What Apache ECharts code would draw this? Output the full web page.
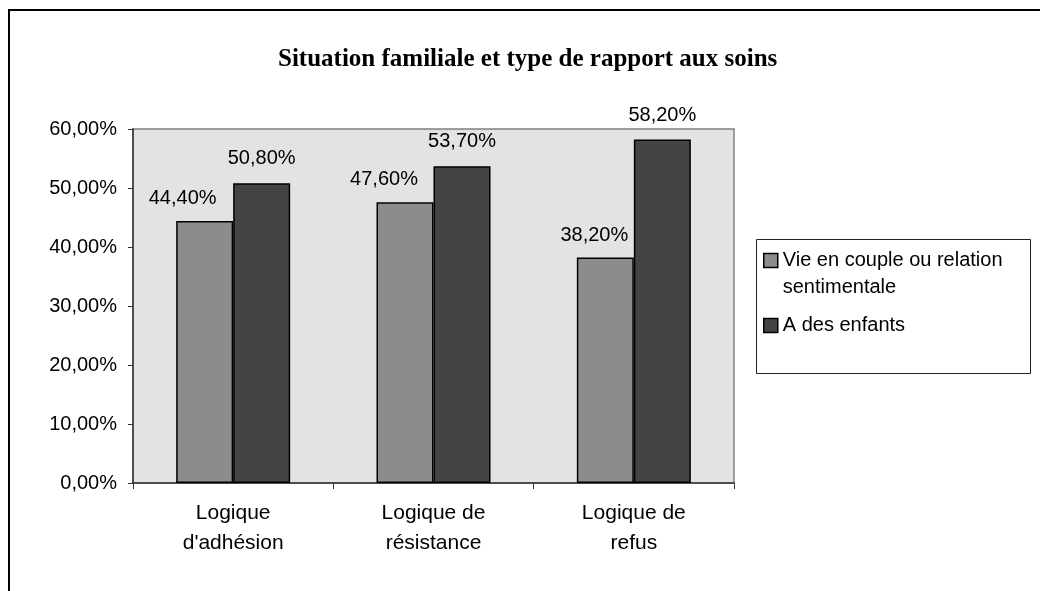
<!DOCTYPE html>
<html>
<head>
<meta charset="utf-8">
<title>Situation familiale et type de rapport aux soins</title>
<script src="https://cdn.jsdelivr.net/npm/echarts@6/dist/echarts.min.js"></script>
<style>
  html, body { margin: 0; padding: 0; background: #fff; }
  #main { width: 1040px; height: 591px; }
</style>
</head>
<body>
<div id="main"></div>
<script>
// données
const categories = ["Logique\nd'adhésion", 'Logique de\nrésistance', 'Logique de\nrefus']
const couple = [44.4, 47.6, 38.2]     // Vie en couple ou relation sentimentale
const enfants = [50.8, 53.7, 58.2]    // A des enfants
const seriesNames = ['Vie en couple ou relation\nsentimentale', 'A des enfants']
// décalage horizontal des étiquettes de la 1re série (Excel les pousse à gauche)
const coupleLabelShift = [-22, -21, -11]

const fontSans = 'Liberation Sans, Arial, sans-serif'

function pct(v) {
  return v.toFixed(2).replace('.', ',') + '%'
}

let myChart = echarts.init(document.getElementById('main'))

let option = {
  backgroundColor: '#ffffff',
  animation: false,
  title: {
    text: 'Situation familiale et type de rapport aux soins',
    left: 273,
    top: 42,
    textStyle: {
      fontFamily: 'Liberation Serif, Times New Roman, serif',
      fontWeight: 'bold',
      fontSize: 25,
      color: '#000'
    }
  },
  legend: {
    orient: 'vertical',
    left: 763,
    top: 220,
    padding: 0,
    itemGap: 11,
    itemWidth: 14,
    itemHeight: 14,
    icon: 'rect',
    itemStyle: { borderColor: '#000', borderWidth: 1.5 },
    textStyle: {
      fontFamily: fontSans,
      fontSize: 20,
      lineHeight: 27,
      color: '#000'
    },
    // ligne vide en tête : l'icône s'aligne sur la première ligne du texte
    formatter: name => (name === seriesNames[0] ? '\n' + name : name),
    data: seriesNames
  },
  grid: {
    left: 133,
    right: 306,
    top: 129,
    bottom: 108,
    show: true,
    backgroundColor: '#e3e3e3',
    borderColor: '#808080',
    borderWidth: 1.5
  },
  xAxis: {
    type: 'category',
    data: categories,
    axisLine: { lineStyle: { color: '#333', width: 1.5 } },
    axisTick: { show: true, length: 6, lineStyle: { color: '#333' } },
    axisLabel: {
      fontFamily: fontSans,
      fontSize: 21,
      lineHeight: 30,
      color: '#000',
      margin: 15
    }
  },
  yAxis: {
    type: 'value',
    min: 0,
    max: 60,
    interval: 10,
    axisLine: { show: true, lineStyle: { color: '#333', width: 1.5 } },
    axisTick: { show: true, length: 5, lineStyle: { color: '#333' } },
    splitLine: { show: false },
    axisLabel: {
      fontFamily: fontSans,
      fontSize: 20,
      color: '#000',
      margin: 16,
      formatter: pct
    }
  },
  series: [
    {
      name: seriesNames[0],
      type: 'bar',
      barWidth: 57,
      barGap: '0%',
      itemStyle: { color: '#8c8c8c', borderColor: '#000', borderWidth: 1.5 },
      label: {
        show: true,
        position: 'top',
        distance: 12.5,
        fontFamily: fontSans,
        fontSize: 20,
        color: '#000',
        formatter: p => pct(p.value)
      },
      data: couple.map((v, i) => ({ value: v, label: { offset: [coupleLabelShift[i], 0] } }))
    },
    {
      name: seriesNames[1],
      type: 'bar',
      barWidth: 57,
      barGap: '0%',
      itemStyle: { color: '#444444', borderColor: '#000', borderWidth: 1.5 },
      label: {
        show: true,
        position: 'top',
        distance: 14.5,
        fontFamily: fontSans,
        fontSize: 20,
        color: '#000',
        formatter: p => pct(p.value)
      },
      data: enfants
    }
  ],
  graphic: [
    // cadre noir autour de la zone du graphique
    {
      type: 'rect',
      silent: true,
      z: -1,
      shape: { x: 9, y: 10, width: 1100, height: 700 },
      style: { fill: 'none', stroke: '#000', lineWidth: 2 }
    },
    // cadre de la légende
    {
      type: 'rect',
      silent: true,
      z: 1,
      shape: { x: 756.5, y: 239.5, width: 274, height: 134 },
      style: { fill: '#fff', stroke: '#222', lineWidth: 1 }
    }
  ]
}

myChart.setOption(option)
</script>
</body>
</html>
